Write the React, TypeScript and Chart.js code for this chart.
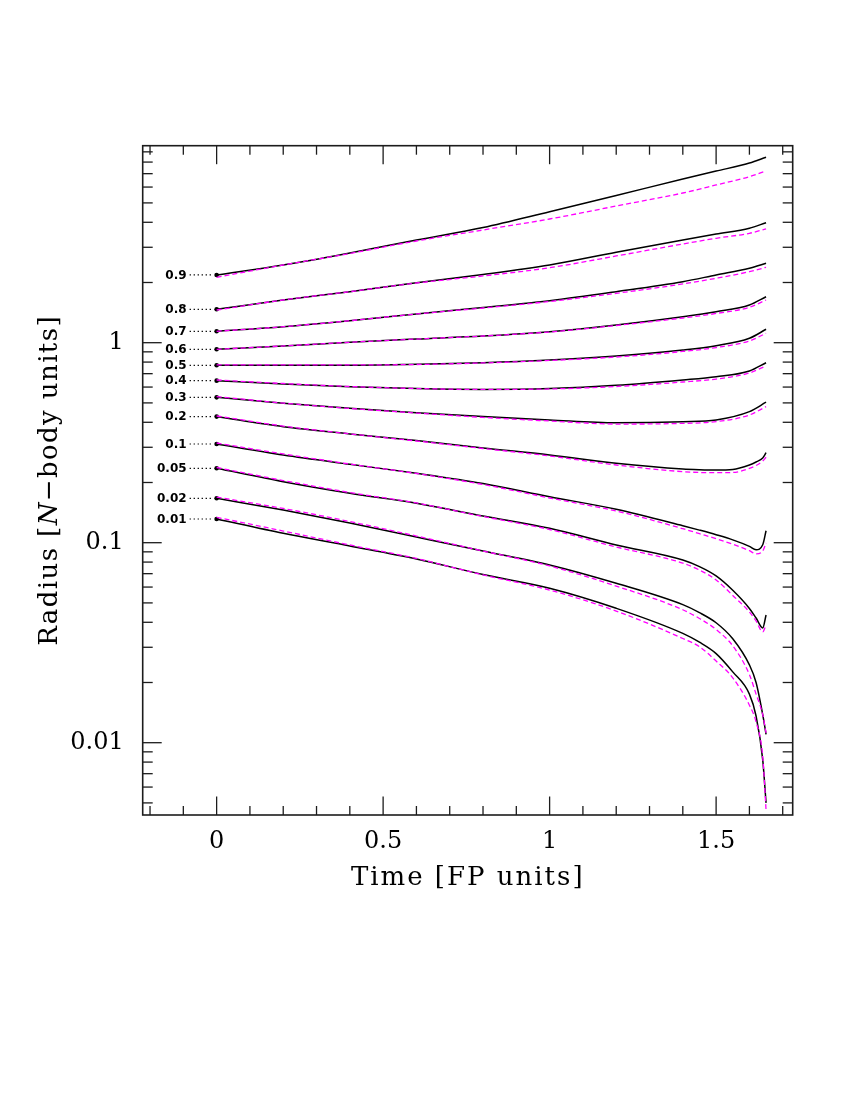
import React, { useEffect, useRef } from "react";
import { Chart, registerables } from "chart.js";

Chart.register(...registerables);

// ---- Data (Lagrangian radii vs time) ----
const FRACTIONS = ["0.9", "0.8", "0.7", "0.6", "0.5", "0.4", "0.3", "0.2", "0.1", "0.05", "0.02", "0.01"];

const TIMES_OUTER = [0, 0.2, 0.4, 0.6, 0.8, 1.0, 1.2, 1.4, 1.5, 1.6, 1.65];
const TIMES_INNER = [0, 0.2, 0.4, 0.6, 0.8, 1.0, 1.2, 1.4, 1.45, 1.5, 1.55, 1.6, 1.62, 1.64, 1.65];

// solid (black) model
const R90_A = [2.181, 2.446, 2.809, 3.262, 3.767, 4.519, 5.443, 6.584, 7.211, 7.907, 8.453];
const R80_A = [1.469, 1.635, 1.799, 1.995, 2.193, 2.446, 2.831, 3.262, 3.495, 3.733, 3.981];
const R70_A = [1.14, 1.202, 1.288, 1.392, 1.5, 1.622, 1.799, 2.018, 2.181, 2.355, 2.495];
const R60_A = [0.927, 0.963, 1.005, 1.043, 1.08, 1.135, 1.226, 1.349, 1.429, 1.543, 1.698];
const R50_A = [0.771, 0.771, 0.771, 0.78, 0.794, 0.819, 0.858, 0.919, 0.966, 1.052, 1.167];
const R40_A = [0.646, 0.622, 0.603, 0.59, 0.584, 0.59, 0.612, 0.651, 0.676, 0.722, 0.794];
const R30_A = [0.533, 0.498, 0.47, 0.447, 0.427, 0.411, 0.398, 0.403, 0.411, 0.452, 0.504];
const R20_A = [0.427, 0.38, 0.35, 0.324, 0.2975, 0.2746, 0.2495, 0.2335, 0.2317, 0.2309, 0.2323, 0.2446, 0.2532, 0.2652, 0.2818];
const R10_A = [0.3115, 0.2745, 0.2466, 0.2223, 0.1977, 0.1698, 0.1469, 0.1216, 0.1156, 0.1096, 0.1033, 0.0959, 0.0923, 0.0977, 0.1148];
const R05_A = [0.2355, 0.2018, 0.1766, 0.1574, 0.136, 0.118, 0.0974, 0.0819, 0.0759, 0.0682, 0.0578, 0.0469, 0.042, 0.0375, 0.0435];
const R02_A = [0.1667, 0.1457, 0.1255, 0.1068, 0.0909, 0.0774, 0.0627, 0.049, 0.0447, 0.0398, 0.0331, 0.0245, 0.02, 0.0138, 0.011];
const R01_A = [0.1314, 0.1114, 0.0963, 0.0829, 0.0693, 0.0592, 0.047, 0.0352, 0.0318, 0.0279, 0.0226, 0.0175, 0.0136, 0.0082, 0.005];

// dashed (magenta) model
const R90_B = [2.123, 2.446, 2.793, 3.225, 3.66, 4.154, 4.824, 5.604, 6.145, 6.761, 7.219];
const R80_B = [1.457, 1.635, 1.799, 1.988, 2.156, 2.371, 2.714, 3.115, 3.327, 3.524, 3.703];
const R70_B = [1.14, 1.202, 1.288, 1.392, 1.491, 1.607, 1.766, 1.966, 2.099, 2.265, 2.382];
const R60_B = [0.927, 0.963, 1.005, 1.043, 1.08, 1.131, 1.219, 1.329, 1.4, 1.503, 1.635];
const R50_B = [0.774, 0.774, 0.774, 0.778, 0.792, 0.815, 0.848, 0.904, 0.946, 1.02, 1.114];
const R40_B = [0.651, 0.625, 0.604, 0.59, 0.584, 0.587, 0.604, 0.636, 0.658, 0.706, 0.765];
const R30_B = [0.538, 0.499, 0.469, 0.445, 0.423, 0.406, 0.392, 0.395, 0.403, 0.435, 0.479];
const R20_B = [0.43, 0.383, 0.35, 0.3225, 0.2958, 0.2714, 0.2446, 0.2265, 0.2244, 0.2239, 0.2244, 0.2355, 0.2432, 0.2561, 0.2673];
const R10_B = [0.3151, 0.2777, 0.2474, 0.2218, 0.1954, 0.1673, 0.144, 0.1175, 0.1109, 0.1047, 0.0982, 0.0912, 0.0879, 0.0909, 0.0997];
const R05_B = [0.2377, 0.2046, 0.1782, 0.158, 0.1352, 0.1164, 0.0952, 0.0791, 0.073, 0.0651, 0.0545, 0.045, 0.0406, 0.0358, 0.0388];
const R02_B = [0.1692, 0.1483, 0.1276, 0.108, 0.0909, 0.0765, 0.0607, 0.0462, 0.0418, 0.0368, 0.0305, 0.0219, 0.0175, 0.0138, 0.0112];
const R01_B = [0.134, 0.1144, 0.0974, 0.0834, 0.069, 0.058, 0.0455, 0.0332, 0.0302, 0.0256, 0.0211, 0.0154, 0.0127, 0.0085, 0.0046];

const SOLID = [R90_A, R80_A, R70_A, R60_A, R50_A, R40_A, R30_A, R20_A, R10_A, R05_A, R02_A, R01_A];
const DASHED = [R90_B, R80_B, R70_B, R60_B, R50_B, R40_B, R30_B, R20_B, R10_B, R05_B, R02_B, R01_B];

// axes
const X_MIN = -0.222;
const X_MAX = 1.73;
const Y_MIN = 0.00435;
const Y_MAX = 9.66;
const X_MAJOR = [0, 0.5, 1, 1.5];
const X_LABELS = ["0", "0.5", "1", "1.5"];
const X_MINOR = [-0.2, -0.1, 0.1, 0.2, 0.3, 0.4, 0.6, 0.7, 0.8, 0.9, 1.1, 1.2, 1.3, 1.4, 1.6, 1.7];
const Y_MAJOR = [0.01, 0.1, 1];
const Y_LABELS = ["0.01", "0.1", "1"];
const Y_MINOR = [0.005, 0.006, 0.007, 0.008, 0.009, 0.02, 0.03, 0.04, 0.05, 0.06, 0.07, 0.08, 0.09,
  0.2, 0.3, 0.4, 0.5, 0.6, 0.7, 0.8, 0.9, 2, 3, 4, 5, 6, 7, 8, 9];

const X_TITLE = "Time [FP units]";
const Y_TITLE_PARTS = ["Radius [", "N", "\u2212body units]"];

const SERIF = "'DejaVu Serif', serif";

const framePlugin = {
  id: "frameTicks",
  afterDatasetsDraw(chart: any) {
    const { ctx, chartArea, scales } = chart;
    const { left, right, top, bottom } = chartArea;
    const xs = scales.x;
    const ys = scales.y;
    ctx.save();
    ctx.strokeStyle = "#1c1c1c";
    ctx.lineWidth = 1.3;
    const tick = (x1: number, y1: number, x2: number, y2: number) => {
      ctx.beginPath();
      ctx.moveTo(x1, y1);
      ctx.lineTo(x2, y2);
      ctx.stroke();
    };
    for (const v of X_MAJOR) {
      const p = xs.getPixelForValue(v);
      tick(p, bottom, p, bottom - 18.5);
      tick(p, top, p, top + 18.5);
    }
    for (const v of X_MINOR) {
      const p = xs.getPixelForValue(v);
      tick(p, bottom, p, bottom - 9);
      tick(p, top, p, top + 9);
    }
    for (const v of Y_MAJOR) {
      const p = ys.getPixelForValue(v);
      tick(left, p, left + 19, p);
      tick(right, p, right - 19, p);
    }
    for (const v of Y_MINOR) {
      const p = ys.getPixelForValue(v);
      if (p < top || p > bottom) continue;
      tick(left, p, left + 10, p);
      tick(right, p, right - 10, p);
    }
    ctx.lineWidth = 1.6;
    ctx.strokeRect(left, top, right - left, bottom - top);

    // leader labels for mass fractions
    chart.data.datasets.forEach((ds: any, i: number) => {
      if (!ds.fracLabel) return;
      const meta = chart.getDatasetMeta(i);
      const pt = meta.data[0];
      if (!pt) return;
      ctx.save();
      ctx.strokeStyle = "#000";
      ctx.lineWidth = 1.2;
      ctx.setLineDash([1.3, 2.7]);
      ctx.beginPath();
      ctx.moveTo(pt.x - 27, pt.y);
      ctx.lineTo(pt.x - 3, pt.y);
      ctx.stroke();
      ctx.restore();
      ctx.fillStyle = "#000";
      ctx.font = "bold 12px 'DejaVu Sans', sans-serif";
      ctx.textAlign = "right";
      ctx.textBaseline = "middle";
      ctx.fillText(ds.fracLabel, pt.x - 30, pt.y + 0.5);
    });

    // axis titles
    ctx.fillStyle = "#000";
    ctx.textBaseline = "alphabetic";
    ctx.textAlign = "left";
    ctx.font = "26px " + SERIF;
    (ctx as any).letterSpacing = "2px";
    const xw = ctx.measureText(X_TITLE).width;
    ctx.fillText(X_TITLE, (left + right) / 2 - xw / 2, 877);

    (ctx as any).letterSpacing = "1.4px";
    const fonts = ["26px " + SERIF, "italic 26px " + SERIF, "26px " + SERIF];
    const widths = Y_TITLE_PARTS.map((t, k) => {
      ctx.font = fonts[k];
      return ctx.measureText(t).width;
    });
    const total = widths.reduce((a, b) => a + b, 0);
    ctx.save();
    ctx.translate(49, (top + bottom) / 2);
    ctx.rotate(-Math.PI / 2);
    let cx = -total / 2;
    Y_TITLE_PARTS.forEach((t, k) => {
      ctx.font = fonts[k];
      ctx.fillText(t, cx, 0);
      cx += widths[k];
    });
    ctx.restore();
    (ctx as any).letterSpacing = "0px";
    ctx.restore();
  },
};

export default function App() {
  const ref = useRef<HTMLCanvasElement | null>(null);

  useEffect(() => {
    if (!ref.current) return;
    const datasets: any[] = [];
    FRACTIONS.forEach((f, k) => {
      const times = DASHED[k].length === TIMES_OUTER.length ? TIMES_OUTER : TIMES_INNER;
      datasets.push({
        label: "model B " + f,
        data: DASHED[k].map((r, i) => ({ x: times[i], y: r })),
        borderColor: "#ff00ff",
        borderWidth: 1.3,
        borderDash: [5, 3],
        pointRadius: 0,
        fill: false,
        cubicInterpolationMode: "monotone",
      });
    });
    FRACTIONS.forEach((f, k) => {
      const times = SOLID[k].length === TIMES_OUTER.length ? TIMES_OUTER : TIMES_INNER;
      datasets.push({
        label: "model A " + f,
        fracLabel: f,
        data: SOLID[k].map((r, i) => ({ x: times[i], y: r })),
        borderColor: "#000000",
        borderWidth: 1.5,
        pointRadius: (c: any) => (c.dataIndex === 0 ? 2.3 : 0),
        pointBackgroundColor: "#000",
        pointBorderColor: "#000",
        pointBorderWidth: 0,
        fill: false,
        cubicInterpolationMode: "monotone",
      });
    });

    const chart = new Chart(ref.current, {
      type: "line",
      data: { datasets },
      plugins: [framePlugin],
      options: {
        animation: false,
        responsive: false,
        devicePixelRatio: 1,
        layout: { padding: { left: 0, right: 49.3, top: 137.7, bottom: 0 } },
        plugins: { legend: { display: false }, tooltip: { enabled: false } },
        scales: {
          x: {
            type: "linear",
            min: X_MIN,
            max: X_MAX,
            grid: { display: false, drawTicks: false },
            border: { display: false },
            afterBuildTicks: (s: any) => {
              s.ticks = X_MAJOR.map((v) => ({ value: v }));
            },
            afterFit: (s: any) => {
              s.height = 77;
            },
            ticks: {
              color: "#000",
              padding: 12,
              maxRotation: 0,
              autoSkip: false,
              font: { family: SERIF, size: 24 },
              callback: (_v: any, i: number) => X_LABELS[i],
            },
          },
          y: {
            type: "logarithmic",
            min: Y_MIN,
            max: Y_MAX,
            grid: { display: false, drawTicks: false },
            border: { display: false },
            afterBuildTicks: (s: any) => {
              s.ticks = Y_MAJOR.map((v) => ({ value: v }));
            },
            afterFit: (s: any) => {
              s.width = 134.7;
            },
            ticks: {
              color: "#000",
              padding: 19,
              autoSkip: false,
              font: { family: SERIF, size: 24 },
              callback: (_v: any, i: number) => Y_LABELS[i],
            },
          },
        },
      },
    });
    return () => chart.destroy();
  }, []);

  return (
    <div style={{ width: 834, height: 884 }}>
      <canvas ref={ref} width={834} height={884} style={{ display: "block" }} />
    </div>
  );
}
